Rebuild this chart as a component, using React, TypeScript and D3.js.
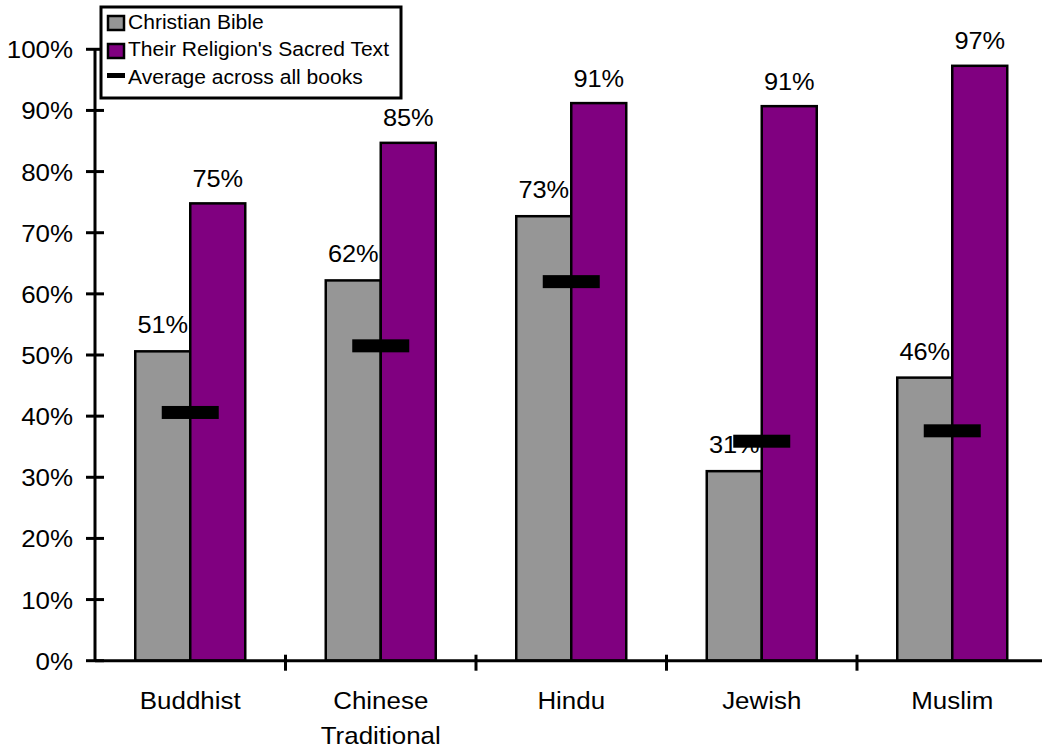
import React from "react";
import * as d3 from "d3";

const categories: string[][] = [
  ["Buddhist"],
  ["Chinese", "Traditional"],
  ["Hindu"],
  ["Jewish"],
  ["Muslim"],
];
const christianBible = [0.506, 0.622, 0.727, 0.31, 0.463];
const sacredText = [0.748, 0.847, 0.912, 0.907, 0.973];
const averageAll = [0.406, 0.515, 0.62, 0.359, 0.376];
const yTicks = [0, 0.1, 0.2, 0.3, 0.4, 0.5, 0.6, 0.7, 0.8, 0.9, 1.0];
const legendItems = ["Christian Bible", "Their Religion's Sacred Text", "Average across all books"];

const W = 1042;
const H = 749;
const GRAY = "#969696";
const PURPLE = "#800080";
const FONT = "'Liberation Sans', Arial, Helvetica, sans-serif";
const SX = 1.08;

function T({ x, y, size, anchor, children }: { x: number; y: number; size: number; anchor: string; children: React.ReactNode }) {
  return (
    <text
      transform={`translate(${x},${y}) scale(${SX},1)`}
      fontSize={size}
      fontFamily={FONT}
      textAnchor={anchor}
      fill="#000"
    >
      {children}
    </text>
  );
}

export default function App() {
  const keys = categories.map((c) => c.join(" "));
  const x = d3.scaleBand<string>().domain(keys).range([95, 1047.5]).paddingInner(0).paddingOuter(0);
  const y = d3.scaleLinear().domain([0, 1]).range([660.7, 49.3]);
  const fmt = d3.format(".0%");
  const barW = 55;
  const bw = x.bandwidth();

  return (
    <div style={{ position: "absolute", left: 0, top: 0 }}>
      <svg width={W} height={H} style={{ display: "block", background: "#fff" }}>
        <rect x={0} y={0} width={W} height={H} fill="#fff" />
        {/* bars */}
        {keys.map((k, i) => {
          const c = (x(k) as number) + bw / 2;
          return (
            <g key={k}>
              <rect x={c - barW} y={y(christianBible[i])} width={barW} height={y(0) - y(christianBible[i])} fill={GRAY} stroke="#000" strokeWidth={2.5} />
              <rect x={c} y={y(sacredText[i])} width={barW} height={y(0) - y(sacredText[i])} fill={PURPLE} stroke="#000" strokeWidth={2.5} />
            </g>
          );
        })}
        {/* data labels */}
        {keys.map((k, i) => {
          const c = (x(k) as number) + bw / 2;
          return (
            <g key={"l" + k}>
              <T x={c - barW / 2} y={y(christianBible[i]) - 18} size={23.5} anchor="middle">{fmt(christianBible[i])}</T>
              <T x={c + barW / 2} y={y(sacredText[i]) - 16.5} size={23.5} anchor="middle">{fmt(sacredText[i])}</T>
            </g>
          );
        })}
        {/* average markers */}
        {keys.map((k, i) => {
          const c = (x(k) as number) + bw / 2;
          return <rect key={"a" + k} x={c - 28.5} y={y(averageAll[i]) - 6.5} width={57} height={13} fill="#000" />;
        })}
        {/* y axis */}
        <line x1={95} x2={95} y1={y(1)} y2={y(0)} stroke="#000" strokeWidth={3} />
        {yTicks.map((t) => (
          <g key={"yt" + t}>
            <line x1={86} x2={104} y1={y(t)} y2={y(t)} stroke="#000" strokeWidth={3} />
            <T x={73} y={y(t) + 9} size={24} anchor="end">{fmt(t)}</T>
          </g>
        ))}
        {/* x axis */}
        <line x1={95} x2={1047.5} y1={y(0)} y2={y(0)} stroke="#000" strokeWidth={3} />
        {keys.slice(1).map((k) => (
          <line key={"xt" + k} x1={x(k) as number} x2={x(k) as number} y1={y(0) - 6} y2={y(0) + 10} stroke="#000" strokeWidth={3} />
        ))}
        {keys.map((k, i) => {
          const c = (x(k) as number) + bw / 2;
          return (
            <g key={"xl" + k}>
              {categories[i].map((line, j) => (
                <T key={line} x={c} y={708.5 + j * 35} size={24} anchor="middle">{line}</T>
              ))}
            </g>
          );
        })}
        {/* legend */}
        <rect x={101} y={7} width={300} height={91} fill="#fff" stroke="#000" strokeWidth={3} />
        <rect x={108} y={16} width={16} height={14} fill={GRAY} stroke="#000" strokeWidth={2.5} />
        <rect x={108} y={44} width={16} height={14} fill={PURPLE} stroke="#000" strokeWidth={2.5} />
        <rect x={107} y={73} width={18} height={5} fill="#000" />
        {legendItems.map((s, i) => (
          <T key={s} x={128} y={28.5 + i * 27.5} size={19.5} anchor="start">{s}</T>
        ))}
      </svg>
    </div>
  );
}
